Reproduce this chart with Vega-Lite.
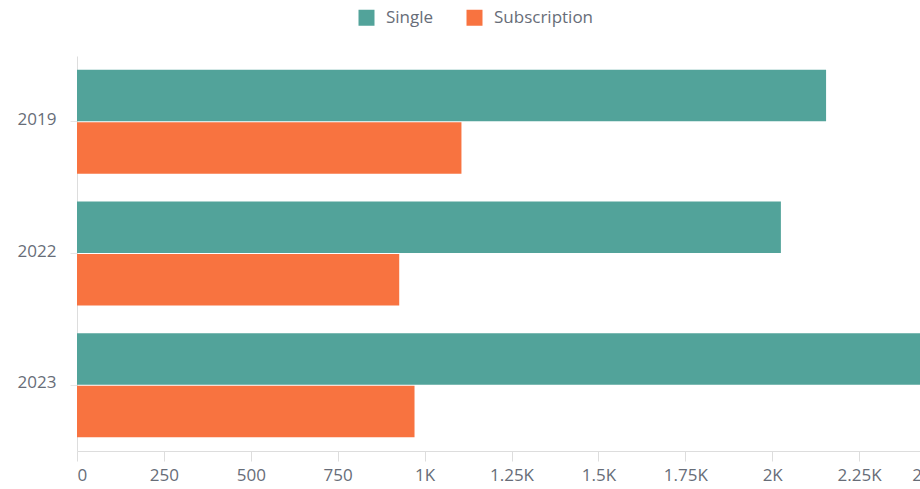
{
  "$schema": "https://vega.github.io/schema/vega-lite/v6.json",
  "autosize": {"type": "none"},
  "width": 869,
  "height": 395,
  "padding": {"left": 77, "top": 56, "right": -26, "bottom": 38},
  "background": "#ffffff",
  "config": {
    "font": "Open Sans",
    "view": {"stroke": null}
  },
  "data": {
    "values": [
      {"year": "2019", "type": "Single", "value": 2155},
      {"year": "2019", "type": "Subscription", "value": 1106},
      {"year": "2022", "type": "Single", "value": 2025},
      {"year": "2022", "type": "Subscription", "value": 927},
      {"year": "2023", "type": "Single", "value": 2480},
      {"year": "2023", "type": "Subscription", "value": 971}
    ]
  },
  "mark": {"type": "bar"},
  "encoding": {
    "y": {
      "field": "year",
      "type": "nominal",
      "scale": {"paddingInner": 0.21, "paddingOuter": 0.105},
      "axis": {
        "title": null,
        "labelFont": "Open Sans",
        "labelFontSize": 17,
        "labelColor": "#676d78",
        "labelPadding": 14,
        "labelBaseline": "middle",
        "labelOffset": -2,
        "tickSize": 7,
        "tickColor": "#e6e6e6",
        "domainColor": "#dddddd",
        "grid": false
      }
    },
    "yOffset": {"field": "type", "type": "nominal", "sort": ["Single", "Subscription"], "scale": {"paddingInner": 0.02}},
    "x": {
      "field": "value",
      "type": "quantitative",
      "scale": {"domain": [0, 2500], "nice": false},
      "axis": {
        "title": null,
        "values": [0, 250, 500, 750, 1000, 1250, 1500, 1750, 2000, 2250, 2500],
        "labelExpr": "datum.value >= 1000 ? format(datum.value / 1000, '~g') + 'K' : datum.value",
        "labelFont": "Open Sans",
        "labelFontSize": 17,
        "labelColor": "#676d78",
        "labelPadding": 6,
        "tickSize": 10,
        "tickColor": "#dddddd",
        "domainColor": "#dddddd",
        "grid": false
      }
    },
    "color": {
      "field": "type",
      "type": "nominal",
      "scale": {"domain": ["Single", "Subscription"], "range": ["#52a39a", "#f87340"]},
      "legend": {
        "title": null,
        "orient": "none",
        "legendX": 281,
        "legendY": -47,
        "direction": "horizontal",
        "symbolType": "square",
        "symbolSize": 256,
        "symbolStrokeWidth": 0,
        "labelFont": "Open Sans",
        "labelFontSize": 17,
        "labelColor": "#676d78",
        "columnPadding": 32,
        "labelOffset": 11
      }
    }
  }
}
